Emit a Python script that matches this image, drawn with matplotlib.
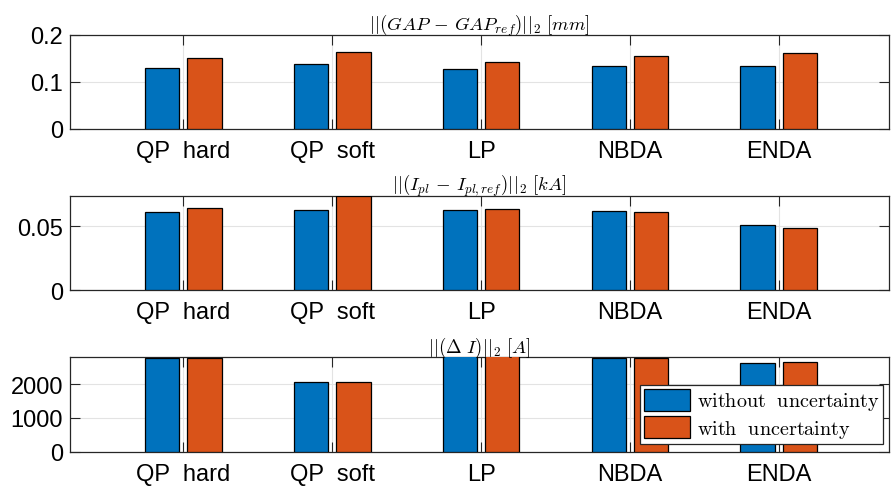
import matplotlib.pyplot as plt
import numpy as np

plt.rcParams['font.family'] = 'Liberation Sans'
plt.rcParams['mathtext.fontset'] = 'cm'

methods = ['QP  hard', 'QP  soft', 'LP', 'NBDA', 'ENDA']
series = ['without  uncertainty', 'with  uncertainty']

gap_nominal = [0.130, 0.138, 0.128, 0.133, 0.135]
gap_uncertain = [0.150, 0.163, 0.142, 0.156, 0.161]

ipl_nominal = [0.0610, 0.0626, 0.0626, 0.0620, 0.0510]
ipl_uncertain = [0.0644, 0.0740, 0.0636, 0.0615, 0.0487]

di_nominal = [2780, 2075, 2950, 2785, 2640]
di_uncertain = [2780, 2075, 2950, 2785, 2660]

titles = [r'$||(GAP\,-\,GAP_{ref})||_2\ [mm]$',
          r'$||(I_{pl}\,-\,I_{pl,ref})||_2\ [kA]$',
          r'$||(\Delta\ I)||_2\ [A]$']
ylims = [(0, 0.2), (0, 0.074), (0, 2800)]
yticks = [[0, 0.1, 0.2], [0, 0.05], [0, 1000, 2000]]
yticklabels = [['0', '0.1', '0.2'], ['0', '0.05'], ['0', '1000', '2000']]

blue = '#0072BD'
orange = '#D95319'
axcol = '#262626'

fig = plt.figure(figsize=(8.91, 4.89), dpi=100)
boxes = [[0.0786, 0.7342, 0.9192, 0.1922],
         [0.0786, 0.4049, 0.9192, 0.1929],
         [0.0786, 0.0742, 0.9192, 0.1931]]

x = np.arange(1, len(methods) + 1)
w = 0.23
off = 0.143

data = [(gap_nominal, gap_uncertain),
        (ipl_nominal, ipl_uncertain),
        (di_nominal, di_uncertain)]

axes = []
for i, (nom, unc) in enumerate(data):
    ax = fig.add_axes(boxes[i])
    ax.bar(x - off, nom, w, color=blue, edgecolor='black', linewidth=0.9,
           label=series[0], zorder=3)
    ax.bar(x + off, unc, w, color=orange, edgecolor='black', linewidth=0.9,
           label=series[1], zorder=3)
    ax.set_xlim(0.24, 5.74)
    ax.set_ylim(*ylims[i])
    ax.set_xticks(x)
    ax.set_xticklabels(methods, fontsize=17)
    ax.set_yticks(yticks[i])
    ax.set_yticklabels(yticklabels[i], fontsize=17)
    ax.tick_params(direction='in', length=7, width=0.8, color=axcol,
                   top=True, right=True, labelcolor='black')
    ax.tick_params(axis='x', pad=8)
    ax.tick_params(axis='y', pad=5)
    ax.grid(True, color='#e3e3e3', linewidth=0.8, zorder=0)
    ax.set_axisbelow(True)
    for s in ax.spines.values():
        s.set_color(axcol)
        s.set_linewidth(0.9)
    ax.set_title(titles[i], fontsize=13.5, pad=4)
    axes.append(ax)

labels = [r'$\mathrm{without\ \ uncertainty}$', r'$\mathrm{with\ \ uncertainty}$']
h, _ = axes[2].get_legend_handles_labels()
leg = axes[2].legend(h, labels, loc='lower right', bbox_to_anchor=(0.993, 0.08),
                     fontsize=14.5, fancybox=False, framealpha=1, edgecolor=axcol,
                     handlelength=2.3, handleheight=1.3, handletextpad=0.3,
                     borderpad=0.2, labelspacing=0.2, borderaxespad=0)
leg.get_frame().set_linewidth(0.9)
leg.set_zorder(5)

fig.savefig('out.png', dpi=100)
